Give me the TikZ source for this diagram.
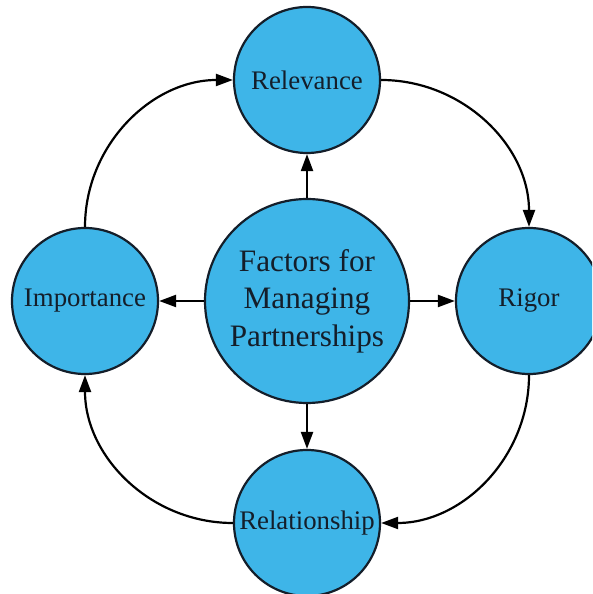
\documentclass[tikz,border=0pt]{standalone}
\usepackage{fontspec}
\setmainfont{Liberation Serif}
\usetikzlibrary{arrows.meta}
\definecolor{fillblue}{RGB}{62,181,232}
\definecolor{edgecol}{RGB}{20,30,42}
\begin{document}
\begin{tikzpicture}[x=1pt,y=1pt,
  factor/.style={circle,draw=edgecol,line width=2.2pt,fill=fillblue,inner sep=0pt,
    minimum size=146pt,text=edgecol,font=\fontsize{26.8}{32}\selectfont},
  hub/.style={factor,minimum size=204pt,align=center,font=\fontsize{31.2}{37.5}\selectfont},
  link/.style={line width=2.2pt,draw=black,-{Triangle[length=17pt,width=12pt]}}]
\useasboundingbox (0,0) rectangle (592,594);
\clip (0,0) rectangle (592,594);
\node[hub] (hub) at (307,293) {Factors for\\Managing\\Partnerships};
\node[factor] (rel) at (307,514) {Relevance};
\node[factor] (imp) at (85,293) {Importance};
\node[factor] (rig) at (529,293) {Rigor};
\node[factor] (rsh) at (307,71) {Relationship};
\draw[link] (hub.north) -- (rel.south);
\draw[link] (hub.west) -- (imp.east);
\draw[link] (hub.east) -- (rig.west);
\draw[link] (hub.south) -- (rsh.north);
\draw[link] (imp.north) to[out=90,in=180] (rel.west);
\draw[link] (rel.east) to[out=0,in=90] (rig.north);
\draw[link] (rig.south) to[out=-90,in=0] (rsh.east);
\draw[link] (rsh.west) to[out=180,in=-90] (imp.south);
\end{tikzpicture}
\end{document}
